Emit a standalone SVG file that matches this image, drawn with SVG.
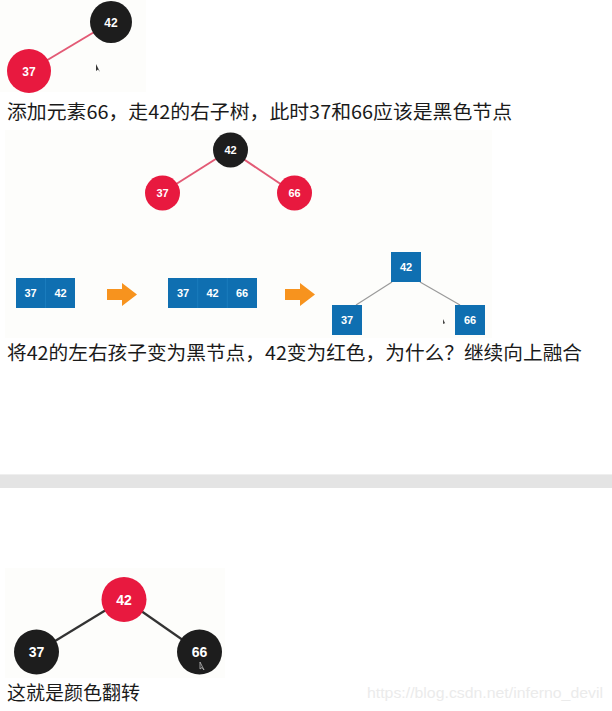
<svg xmlns="http://www.w3.org/2000/svg" width="612" height="711" viewBox="0 0 612 711">
<style>
.cap{font-family:"Noto Sans CJK SC","Liberation Sans",sans-serif;font-size:19px;fill:#1a1a1a}
.nl{font-family:"Liberation Sans",Arial,sans-serif;font-weight:bold;fill:#fff;text-anchor:middle}
.red{fill:#e8193f}
.blk{fill:#1d1d1d}
.box{fill:#0f6fb1}
.arr{fill:#f7931e}
.bg{fill:#fdfdfb}
</style>
<rect width="612" height="711" fill="#fff"/>
<!-- image backgrounds -->
<rect class="bg" x="0" y="0" width="146" height="92"/>
<rect class="bg" x="5" y="130" width="487" height="208"/>
<rect class="bg" x="5" y="568" width="220" height="110"/>
<rect x="0" y="475" width="612" height="13" fill="#e4e4e4"/>
<rect x="0" y="474" width="612" height="1" fill="#efefef"/>
<g id="connectors">
<line x1="111" y1="22" x2="29" y2="71" stroke="#e35a75" stroke-width="2"/>
<line x1="230" y1="150" x2="162" y2="193" stroke="#e35a75" stroke-width="2"/>
<line x1="230" y1="150" x2="294" y2="193" stroke="#e35a75" stroke-width="2"/>
<line x1="392" y1="282" x2="356" y2="305" stroke="#9a9a9a" stroke-width="1.2"/>
<line x1="420" y1="282" x2="460" y2="305" stroke="#9a9a9a" stroke-width="1.2"/>
<line x1="124" y1="599" x2="37" y2="652" stroke="#333" stroke-width="2.2"/>
<line x1="124" y1="599" x2="200" y2="652" stroke="#333" stroke-width="2.2"/>
</g>
<!-- image 1 -->
<g id="n1-42"><circle class="blk" cx="111" cy="22" r="21"/><text class="nl" x="111" y="26.5" font-size="12">42</text></g>
<g id="n1-37"><circle class="red" cx="29" cy="71" r="22"/><text class="nl" x="29" y="75.5" font-size="12">37</text></g>
<path d="M96 64 L96 71 L98 69.5 L100 72 Z" fill="#333"/>
<text class="cap" x="7" y="119" textLength="505" lengthAdjust="spacingAndGlyphs">添加元素66，走42的右子树，此时37和66应该是黑色节点</text>
<!-- image 2 -->
<g id="n2-42"><circle class="blk" cx="230.5" cy="150" r="17.5"/><text class="nl" x="230.5" y="154" font-size="11">42</text></g>
<g id="n2-37"><circle class="red" cx="162.5" cy="193" r="17.5"/><text class="nl" x="162.5" y="197" font-size="11">37</text></g>
<g id="n2-66"><circle class="red" cx="294.5" cy="193" r="17.5"/><text class="nl" x="294.5" y="197" font-size="11">66</text></g>
<g id="b1"><rect class="box" x="16" y="278" width="59" height="30"/><line x1="45.5" y1="278" x2="45.5" y2="308" stroke="#1a7cbd" stroke-width="1"/><text class="nl" x="30.5" y="297" font-size="11">37</text><text class="nl" x="60.5" y="297" font-size="11">42</text></g>
<g id="a1"><path class="arr" d="M107 289 H122 V283 L137 294.5 L122 306 V300 H107 Z"/></g>
<g id="b2"><rect class="box" x="168" y="278" width="89" height="30"/><line x1="197.7" y1="278" x2="197.7" y2="308" stroke="#1a7cbd" stroke-width="1"/><line x1="227.3" y1="278" x2="227.3" y2="308" stroke="#1a7cbd" stroke-width="1"/><text class="nl" x="183" y="297" font-size="11">37</text><text class="nl" x="212.5" y="297" font-size="11">42</text><text class="nl" x="242" y="297" font-size="11">66</text></g>
<g id="a2"><path class="arr" d="M285 289 H300 V283 L315 294.5 L300 306 V300 H285 Z"/></g>
<g id="t42"><rect class="box" x="391" y="252" width="30" height="30"/><text class="nl" x="406" y="271" font-size="11">42</text></g>
<g id="t37"><rect class="box" x="332" y="305" width="30" height="30"/><text class="nl" x="347" y="324" font-size="11">37</text></g>
<g id="t66"><rect class="box" x="455" y="305" width="30" height="30"/><text class="nl" x="470" y="324" font-size="11">66</text></g>
<path d="M443 319 L443 324 L445 323 L446 325 Z" fill="#444"/>
<text class="cap" x="7" y="360" textLength="575" lengthAdjust="spacingAndGlyphs">将42的左右孩子变为黑节点，42变为红色，为什么？继续向上融合</text>
<!-- image 3 -->
<g id="n3-42"><circle class="red" cx="124" cy="599.5" r="22.5"/><text class="nl" x="124" y="604.5" font-size="14">42</text></g>
<g id="n3-37"><circle class="blk" cx="36.5" cy="652" r="22.5"/><text class="nl" x="36.5" y="657" font-size="14">37</text></g>
<g id="n3-66"><circle class="blk" cx="199.5" cy="652" r="22.5"/><text class="nl" x="199.5" y="657" font-size="14">66</text></g>
<path d="M200 662 L200 669 L202 667.5 L204 670 Z" fill="none" stroke="#bbb" stroke-width="0.8"/>
<text class="cap" x="7" y="700">这就是颜色翻转</text>
<text x="367" y="698" font-family="Liberation Sans,Arial,sans-serif" font-size="15.5" fill="#ebebeb" textLength="236" lengthAdjust="spacingAndGlyphs">https://blog.csdn.net/inferno_devil</text>
</svg>
